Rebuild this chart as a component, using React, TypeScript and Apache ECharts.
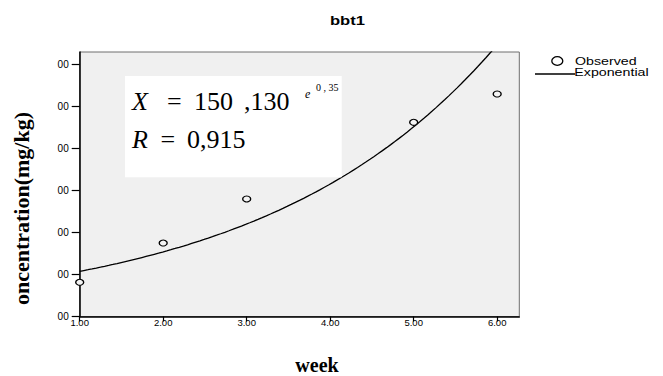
import React, { useEffect, useRef } from "react";
import * as echarts from "echarts";

// Data
const xTicks = [1, 2, 3, 4, 5, 6];
const yTicks = [0, 200, 400, 600, 800, 1000, 1200];
const yTickLabel = "00";
const weeks = [1, 2, 3, 5, 6];
const observed = [163, 350, 560, 925, 1060];
// Exponential fit as printed in the chart: X = 150.130 e^(0.359 t)
const fitA = 150.13;
const fitB = 0.359;
const xMin = 1;
const xMax = 6.265;
const yMax = 1260;

const fitCurve: number[][] = [];
for (let i = 0; i <= 106; i++) {
  const t = xMin + (i * (xMax - xMin)) / 106;
  fitCurve.push([t, fitA * Math.exp(fitB * t)]);
}

const serif = "'Liberation Serif', 'Times New Roman', serif";
const sans = "'Liberation Sans', Arial, sans-serif";

export default function App() {
  const ref = useRef<HTMLDivElement>(null);
  useEffect(() => {
    if (!ref.current) return;
    const chart = echarts.init(ref.current, null, { renderer: "svg" });
    chart.setOption({
      animation: false,
      backgroundColor: "#ffffff",
      grid: {
        left: 79.7,
        right: 143.7,
        top: 52,
        bottom: 59.5,
        show: true,
        backgroundColor: "#f0f0f0",
        borderColor: "#6e6e6e",
        borderWidth: 1,
      },
      xAxis: {
        type: "value",
        min: xMin,
        max: xMax,
        interval: 1,
        splitLine: { show: false },
        axisLine: { show: true, onZero: false, lineStyle: { color: "#000", width: 1.5 } },
        axisTick: { show: true, length: 5, customValues: xTicks, lineStyle: { color: "#000", width: 1.2 } },
        axisLabel: {
          customValues: xTicks,
          formatter: (v: number) => v.toFixed(2),
          fontFamily: sans,
          fontSize: 9.5,
          color: "#000",
          margin: 1,
        },
      },
      yAxis: {
        type: "value",
        min: 0,
        max: yMax,
        interval: 200,
        splitLine: { show: false },
        axisLine: { show: true, onZero: false, lineStyle: { color: "#000", width: 1.5 } },
        axisTick: { show: true, length: 8, customValues: yTicks, lineStyle: { color: "#000", width: 1.2 } },
        axisLabel: {
          customValues: yTicks,
          formatter: () => yTickLabel,
          fontFamily: sans,
          fontSize: 10,
          color: "#000",
          margin: 11,
        },
      },
      series: [
        {
          name: "Exponential",
          type: "line",
          data: fitCurve,
          showSymbol: false,
          symbol: "none",
          lineStyle: { color: "#000", width: 1.3 },
          clip: true,
          z: 2,
        },
        {
          name: "Observed",
          type: "scatter",
          data: weeks.map((w, i) => [w, observed[i]]),
          symbol: "circle",
          symbolSize: [8, 6],
          itemStyle: { color: "#f4f4f4", borderColor: "#000", borderWidth: 1.2, opacity: 1 },
          z: 3,
        },
      ],
      graphic: [
        {
          type: "text",
          x: 347.5,
          y: 20.7,
          scaleX: 1.33,
          z: 100,
          style: {
            text: "bbt1",
            fontFamily: sans,
            fontWeight: "bold",
            fontSize: 12.5,
            fill: "#000",
            align: "center",
            verticalAlign: "middle",
          },
        },
        {
          type: "rect",
          z: 100,
          shape: { x: 125, y: 76, width: 216.7, height: 101.3 },
          style: { fill: "#ffffff" },
        },
        {
          type: "text", x: 132, y: 101.2, z: 101,
          style: { text: "X", fontFamily: serif, fontStyle: "italic", fontSize: 26, fill: "#000", align: "left", verticalAlign: "middle" },
        },
        {
          type: "text", x: 167, y: 101.2, z: 101,
          style: { text: "=", fontFamily: serif, fontSize: 26, fill: "#000", align: "left", verticalAlign: "middle" },
        },
        {
          type: "text", x: 194, y: 101.2, z: 101,
          style: { text: "150", fontFamily: serif, fontSize: 26, fill: "#000", align: "left", verticalAlign: "middle" },
        },
        {
          type: "text", x: 244, y: 101.2, z: 101,
          style: { text: ",130", fontFamily: serif, fontSize: 26, fill: "#000", align: "left", verticalAlign: "middle" },
        },
        {
          type: "text", x: 305, y: 93.7, z: 101,
          style: { text: "e", fontFamily: serif, fontStyle: "italic", fontSize: 12, fill: "#000", align: "left", verticalAlign: "middle" },
        },
        {
          type: "text", x: 316, y: 87.3, z: 101,
          style: { text: "0 , 35", fontFamily: serif, fontSize: 10, fill: "#000", align: "left", verticalAlign: "middle" },
        },
        {
          type: "text", x: 132, y: 139.5, z: 101,
          style: { text: "R", fontFamily: serif, fontStyle: "italic", fontSize: 26, fill: "#000", align: "left", verticalAlign: "middle" },
        },
        {
          type: "text", x: 160.5, y: 139.5, z: 101,
          style: { text: "=", fontFamily: serif, fontSize: 26, fill: "#000", align: "left", verticalAlign: "middle" },
        },
        {
          type: "text", x: 187, y: 139.5, z: 101,
          style: { text: "0,915", fontFamily: serif, fontSize: 26, fill: "#000", align: "left", verticalAlign: "middle" },
        },
        // legend
        {
          type: "ellipse", z: 100,
          shape: { cx: 557.3, cy: 61, rx: 5.5, ry: 4.3 },
          style: { fill: "#fff", stroke: "#000", lineWidth: 1.3 },
        },
        {
          type: "text", x: 575, y: 61.3, scaleX: 1.33, z: 100,
          style: { text: "Observed", fontFamily: sans, fontSize: 10.7, fill: "#000", align: "left", verticalAlign: "middle" },
        },
        {
          type: "line", z: 100,
          shape: { x1: 535, y1: 74, x2: 575, y2: 74 },
          style: { stroke: "#000", lineWidth: 1.3 },
        },
        {
          type: "text", x: 574.3, y: 73, scaleX: 1.33, z: 101,
          style: { text: "Exponential", fontFamily: sans, fontSize: 10.7, fill: "#000", align: "left", verticalAlign: "middle" },
        },
        // axis titles
        {
          type: "text", x: 21.6, y: 208.5, rotation: Math.PI / 2, z: 100,
          style: { text: "oncentration(mg/kg)", fontFamily: serif, fontWeight: "bold", fontSize: 22, fill: "#000", align: "center", verticalAlign: "middle" },
        },
        {
          type: "text", x: 317, y: 364.5, z: 100,
          style: { text: "week", fontFamily: serif, fontWeight: "bold", fontSize: 20, fill: "#000", align: "center", verticalAlign: "middle" },
        },
      ],
    });
    return () => chart.dispose();
  }, []);
  return (
    <div
      ref={ref}
      style={{ position: "absolute", left: 0, top: 0, width: 663, height: 376, background: "#fff" }}
    />
  );
}
